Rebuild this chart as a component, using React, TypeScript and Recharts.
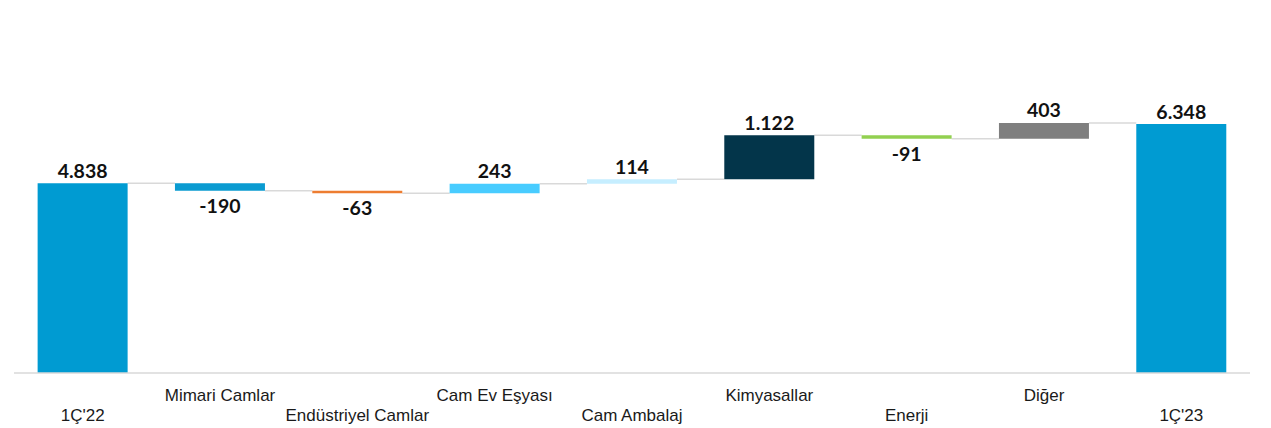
import React from "react";
import { BarChart, Bar, XAxis, YAxis, Rectangle } from "recharts";

const categories = [
  "1Ç'22",
  "Mimari Camlar",
  "Endüstriyel Camlar",
  "Cam Ev Eşyası",
  "Cam Ambalaj",
  "Kimyasallar",
  "Enerji",
  "Diğer",
  "1Ç'23",
];
const changes = [4838, -190, -63, 243, 114, 1122, -91, 403, 6348];
const isTotal = [true, false, false, false, false, false, false, false, true];
const valueLabels = ["4.838", "-190", "-63", "243", "114", "1.122", "-91", "403", "6.348"];
const barColors = [
  "#009BD2",
  "#0A9BD1",
  "#ED7D31",
  "#48CCFF",
  "#C6EEFF",
  "#03354A",
  "#92D050",
  "#7F7F7F",
  "#009BD2",
];

const W = 1271;
const H = 428;
const M = { top: 20, right: 21, bottom: 0, left: 14 };
const AXIS_H = 55;

type Row = {
  name: string;
  base: number;
  size: number;
  change: number;
  label: string;
  color: string;
  idx: number;
};

const data: Row[] = (() => {
  let running = 0;
  return categories.map((name, i) => {
    const v = changes[i];
    let base = 0;
    let size = 0;
    if (isTotal[i]) {
      base = 0;
      size = v;
      running = v;
    } else {
      const start = running;
      const end = running + v;
      base = Math.min(start, end);
      size = Math.abs(v);
      running = end;
    }
    return { name, base, size, change: v, label: valueLabels[i], color: barColors[i], idx: i };
  });
})();

const band = (W - M.left - M.right) / categories.length;

const WaterfallShape = (props: any) => {
  const { x, y, width, height, payload } = props;
  const p: Row = payload;
  const negative = !isTotal[p.idx] && p.change < 0;
  const endY = negative ? y + height : y;
  const gap = band - width;
  const last = p.idx === categories.length - 1;
  return (
    <g>
      {!last && (
        <line
          x1={x + width}
          x2={x + width + gap}
          y1={endY}
          y2={endY}
          stroke="#D9D9D9"
          strokeWidth={1.5}
        />
      )}
      <Rectangle x={x} y={y} width={width} height={Math.max(height, 2)} fill={p.color} />
      <text
        x={x + width / 2}
        y={negative ? y + height + 22 : y - 5.5}
        textAnchor="middle"
        fontFamily="Lato, 'Open Sans', sans-serif"
        fontWeight={700}
        fontSize={19.5}
        fill="#111"
      >
        {p.label}
      </text>
    </g>
  );
};

const CategoryTick = (props: any) => {
  const { x, y, payload, index } = props;
  const i = typeof index === "number" ? index : categories.indexOf(payload.value);
  const upper = i % 2 === 1;
  return (
    <text
      x={x}
      y={y + (upper ? 28 : 48)}
      textAnchor="middle"
      fontFamily="'Liberation Sans', Arial, sans-serif"
      fontSize={17}
      fill="#1a1a1a"
    >
      {payload.value}
    </text>
  );
};

export default function App() {
  return (
    <div style={{ position: "absolute", left: 0, top: 0, width: W, height: H, background: "#fff" }}>
      <BarChart width={W} height={H} data={data} margin={M} barCategoryGap="17.2%">
        <XAxis
          dataKey="name"
          height={AXIS_H}
          interval={0}
          tickLine={false}
          tickSize={0}
          tickMargin={0}
          axisLine={{ stroke: "#D9D9D9", strokeWidth: 1.5 }}
          tick={<CategoryTick />}
        />
        <YAxis hide domain={[0, 9000]} />
        <Bar dataKey="base" stackId="w" fill="transparent" isAnimationActive={false} />
        <Bar dataKey="size" stackId="w" isAnimationActive={false} shape={<WaterfallShape />} />
      </BarChart>
    </div>
  );
}
